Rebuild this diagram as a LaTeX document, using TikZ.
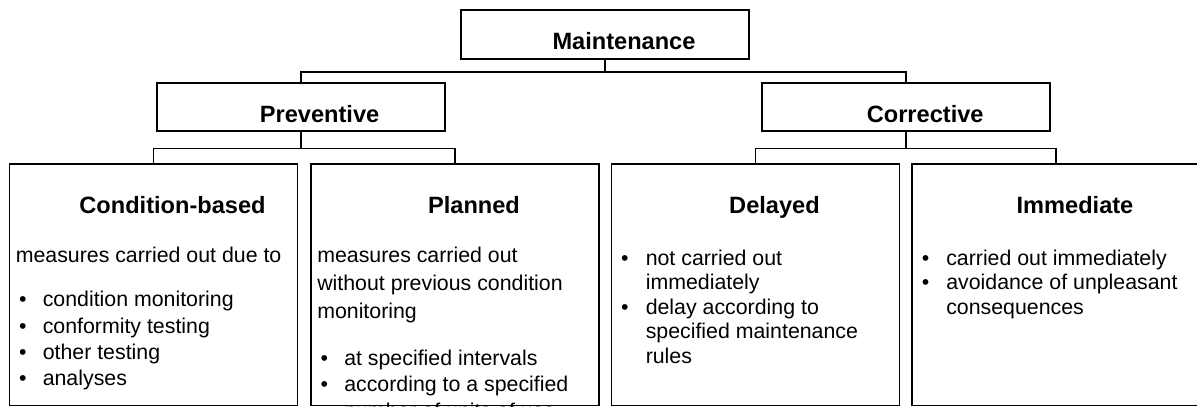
\documentclass[tikz,border=0pt]{standalone}
\usepackage{fontspec}
\setmainfont{Liberation Sans}
\begin{document}
\begin{tikzpicture}[x=0.75pt,y=-0.75pt,
  frame/.style={draw, line width=1.4pt, inner sep=0pt},
  topbox/.style={frame, minimum width=216pt, minimum height=36pt},
  leafbox/.style={frame, minimum width=216pt, minimum height=181.2pt},
  head/.style={font=\fontsize{17.7}{21}\selectfont\bfseries, anchor=base, inner sep=0pt},
  txt/.style={font=\fontsize{16}{19.7}\selectfont, anchor=base west, inner sep=0pt},
  conn/.style={line width=1.4pt}]
\useasboundingbox (0,0) rectangle (1197,407);

% boxes
\node[topbox, minimum height=36.75pt] (maint) at (605,34.8) {};
\node[topbox] (prev) at (300.6,106.7) {};
\node[topbox] (corr) at (906.2,106.7) {};
\node[leafbox] (cond) at (153.5,284.75) {};
\node[leafbox] (plan) at (455,284.75) {};
\node[leafbox] (del)  at (755.5,284.75) {};
\node[leafbox] (imm)  at (1056,284.75) {};

% connectors
\draw[conn] (maint.south) -- ++(0,11.4) coordinate (busM);
\draw[conn] (prev.north) |- (busM) -| (corr.north);
\draw[conn] (prev.south) -- ++(0,16.8) coordinate (busP);
\draw[conn] (cond.north) |- (busP) -| (plan.north);
\draw[conn] (corr.south) -- ++(0,16.8) coordinate (busC);
\draw[conn] (del.north) |- (busC) -| (imm.north);

% headings
\node[head] (tmaint) at (624,50) {Maintenance};
\node[head] (tprev) at (319.6,122.3) {Preventive};
\node[head] (tcorr) at (925.2,122.3) {Corrective};
\node[head] (tcond) at (172.5,213.8) {Condition-based};
\node[head] (tplan) at (474,213.8) {Planned};
\node[head] (tdel)  at (774.5,213.8) {Delayed};
\node[head] (timm)  at (1075,213.8) {Immediate};

% condition-based
\node[txt] (c0) at (15.5,262.7) {measures carried out due to};
\foreach \t [count=\i] in {condition monitoring, conformity testing, other testing, analyses} {
  \node[txt] (cb\i) at (18.8,280.4+26.3*\i) {\textbullet};
  \node[txt] (ct\i) at (42.5,280.4+26.3*\i) {\t};
}

% planned (the list runs on below the frame and is cut off by it)
\foreach \t [count=\i] in {measures carried out, without previous condition, monitoring} {
  \node[txt] (p\i) at (317,234.9+27.8*\i) {\t};
}
\begin{scope}
  \clip (plan.north west) rectangle (plan.south east);
  \node[txt] (pb1) at (320.3,365) {\textbullet};
  \node[txt] (pt1) at (344,365) {at specified intervals};
  \node[txt] (pb2) at (320.3,391.3) {\textbullet};
  \node[txt] (pt2) at (344,391.3) {according to a specified};
  \node[txt] (pt3) at (344,418.6) {number of units of use};
\end{scope}

% delayed
\node[txt] (db1) at (620.8,265) {\textbullet};
\node[txt] (db2) at (620.8,314.2) {\textbullet};
\foreach \t [count=\i] in {not carried out, immediately, delay according to, specified maintenance, rules} {
  \node[txt] (dt\i) at (645.5,240.4+24.6*\i) {\t};
}

% immediate
\node[txt] (ib1) at (921.5,265) {\textbullet};
\node[txt] (ib2) at (921.5,289.6) {\textbullet};
\foreach \t [count=\i] in {carried out immediately, avoidance of unpleasant, consequences} {
  \node[txt] (it\i) at (946,240.4+24.6*\i) {\t};
}
\end{tikzpicture}
\end{document}
